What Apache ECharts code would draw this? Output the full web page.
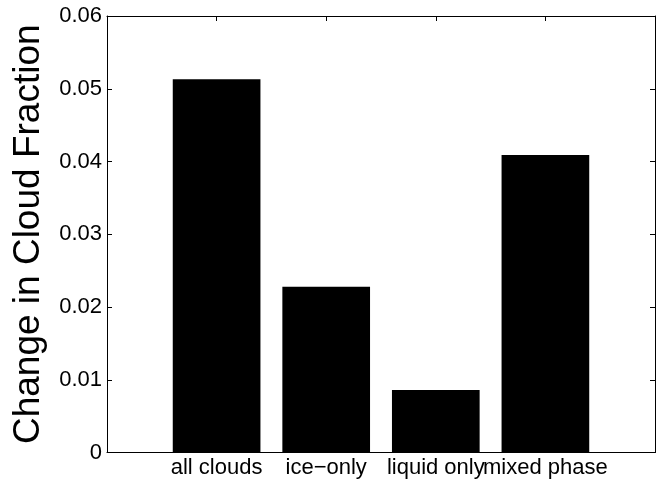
<!DOCTYPE html>
<html>
<head>
<meta charset="utf-8">
<script src="https://cdn.jsdelivr.net/npm/echarts@6/dist/echarts.min.js"></script>
<style>
html,body{margin:0;padding:0;background:#fff;}
#chart{width:661px;height:483px;}
</style>
</head>
<body>
<div id="chart"></div>
<script>
var categories = ['all clouds', 'ice\u2212only', 'liquid only', 'mixed phase'];
var positions = [1, 2, 3, 4];
var values = [0.0513, 0.0228, 0.0086, 0.0409];
var yTicks = [0, 0.01, 0.02, 0.03, 0.04, 0.05, 0.06];
var yTitle = 'Change in Cloud Fraction';

var FONT = '"Liberation Sans", Arial, Helvetica, sans-serif';
var chart = echarts.init(document.getElementById('chart'), null, {renderer: 'canvas'});

var lineStyle = {color: '#000', width: 1};
var tickStyle = {show: true, inside: true, length: 5, lineStyle: {color: '#000', width: 1}};

chart.setOption({
  animation: false,
  backgroundColor: '#fff',
  grid: {left: 107, right: 6, top: 16, bottom: 30.5, containLabel: false},
  xAxis: [
    {
      type: 'value', position: 'bottom', min: 0, max: 5, interval: 1,
      axisLine: {show: true, lineStyle: lineStyle, onZero: false},
      axisTick: tickStyle,
      splitLine: {show: false},
      axisLabel: {
        show: true, color: '#000', fontSize: 22, fontFamily: FONT, margin: 4,
        showMinLabel: true, showMaxLabel: true, hideOverlap: false,
        formatter: function (v) {
          var i = positions.indexOf(v);
          return i >= 0 ? categories[i] : '';
        }
      }
    },
    {
      type: 'value', position: 'top', min: 0, max: 5, interval: 1,
      axisLine: {show: true, lineStyle: lineStyle, onZero: false},
      axisTick: tickStyle,
      splitLine: {show: false},
      axisLabel: {show: false}
    }
  ],
  yAxis: [
    {
      type: 'value', position: 'left', min: 0, max: 0.06, interval: 0.01,
      axisLine: {show: true, lineStyle: lineStyle, onZero: false},
      axisTick: tickStyle,
      splitLine: {show: false},
      axisLabel: {
        color: '#000', fontSize: 22, fontFamily: FONT, margin: 5,
        formatter: function (v) {
          var t = yTicks.reduce(function (a, b) { return Math.abs(b - v) < Math.abs(a - v) ? b : a; });
          return t === 0 ? '0' : t.toFixed(2);
        }
      },
      name: yTitle,
      nameLocation: 'middle',
      nameGap: 60,
      nameRotate: 90,
      nameTextStyle: {color: '#000', fontSize: 37, fontFamily: FONT}
    },
    {
      type: 'value', position: 'right', min: 0, max: 0.06, interval: 0.01,
      axisLine: {show: true, lineStyle: lineStyle, onZero: false},
      axisTick: tickStyle,
      splitLine: {show: false},
      axisLabel: {show: false}
    }
  ],
  series: [
    {
      type: 'bar',
      xAxisIndex: 0,
      yAxisIndex: 0,
      barWidth: '80%',
      itemStyle: {color: '#000'},
      data: positions.map(function (p, i) { return [p, values[i]]; })
    }
  ]
});
</script>
</body>
</html>
